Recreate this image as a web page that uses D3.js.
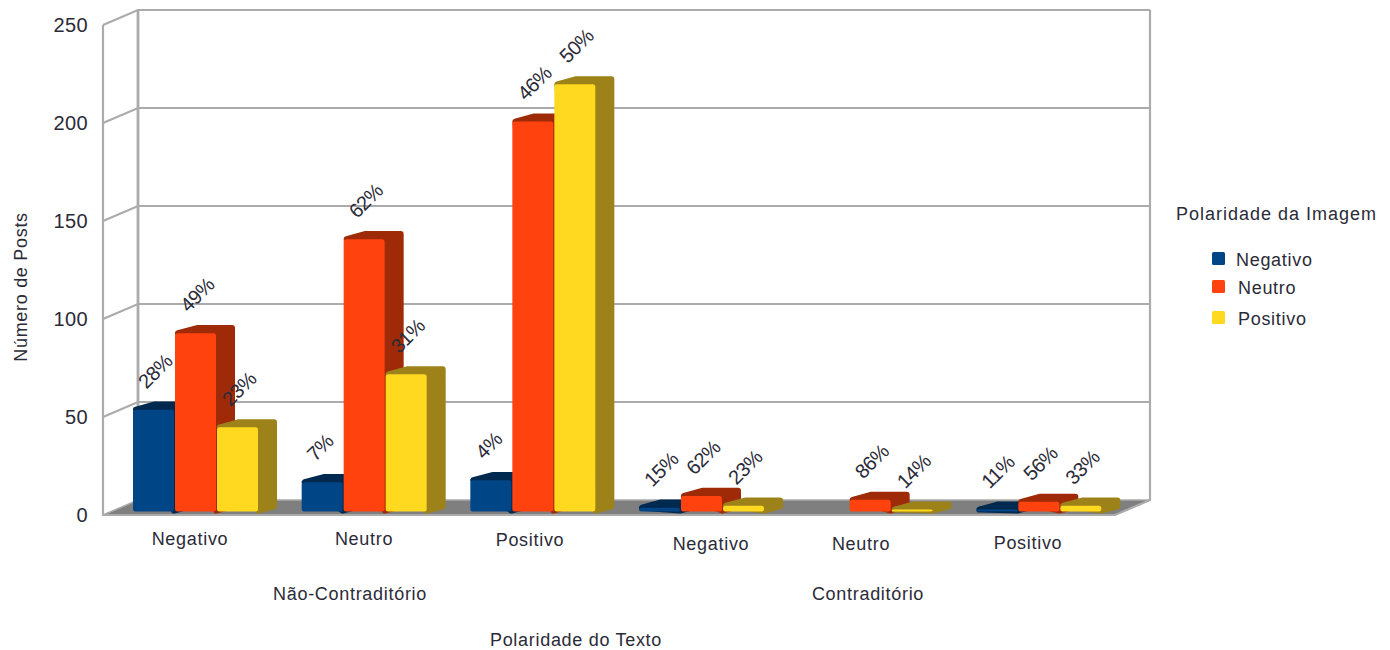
<!DOCTYPE html>
<html lang="pt">
<head>
<meta charset="utf-8">
<script src="https://cdn.jsdelivr.net/npm/d3@7/dist/d3.min.js"></script>
<style>
  html, body { margin: 0; background: #fff; }
  svg { display: block; }
  text { font-family: "Liberation Sans", Arial, sans-serif; fill: #2b2b38; }
</style>
</head>
<body>
<svg id="chart" width="1390" height="650"></svg>
<script>
// Posts counted by text polarity (two levels) and image polarity (series)
const textPolarity = ["Negativo", "Neutro", "Positivo", "Negativo", "Neutro", "Positivo"];
const contradiction = ["Não-Contraditório", "Contraditório"];
const imagePolarity = ["Negativo", "Neutro", "Positivo"];
const negativeSeries = [52, 15, 16, 2, 0, 1];
const neutralSeries = [91, 139, 199, 8, 6, 5];
const positiveSeries = [43, 70, 218, 3, 1, 3];
const yTicks = [0, 50, 100, 150, 200, 250];

const series = [negativeSeries, neutralSeries, positiveSeries];
const frontColors = ["#004586", "#ff420e", "#ffd820"];
const sideColors = ["#00294f", "#9f2a08", "#9c8218"];

// Oblique projection of the chart box
const plot = { left: 103, right: 1115, base: 515, top: 25, depthX: 35, depthY: -15 };
const gridColor = "#ababab";

const svg = d3.select("#chart");
const y = d3.scaleLinear().domain([0, 250]).range([plot.base, plot.top]);
const xGroup = d3.scaleBand().domain(d3.range(textPolarity.length)).range([plot.left, plot.right]);
const xSeries = d3.scaleBand().domain(d3.range(series.length)).range([22, 22 + 42 * 3]);
const line = d3.line();

// Depth fractions for points on the box (0 = front, 1 = back)
const dx = f => plot.depthX * f;
const dy = f => plot.depthY * f;

// Back wall, left wall and floor
const frame = svg.append("g");
frame.append("path")
  .attr("d", line([
    [plot.left, plot.base],
    [plot.right, plot.base],
    [plot.right + dx(1), plot.base + dy(1)],
    [plot.left + dx(1), plot.base + dy(1)]
  ]) + "Z")
  .attr("fill", "#7f7f7f");

frame.selectAll(".grid").data(yTicks).join("path")
  .attr("class", "grid")
  .attr("fill", "none")
  .attr("stroke", gridColor)
  .attr("stroke-width", (d, i) => (i === 0 ? 1.5 : 2.2))
  .attr("d", d => line([
    [plot.left, y(d)],
    [plot.left + dx(1), y(d) + dy(1)],
    [plot.right + dx(1), y(d) + dy(1)]
  ]));

frame.append("path")
  .attr("fill", "none").attr("stroke", gridColor).attr("stroke-width", 2.2)
  .attr("d", line([[plot.left, plot.top], [plot.left, plot.base], [plot.right, plot.base], [plot.right + dx(1), plot.base + dy(1)], [plot.right + dx(1), plot.top + dy(1)]]));
frame.append("path")
  .attr("fill", "none").attr("stroke", gridColor).attr("stroke-width", 2.8)
  .attr("d", line([[plot.left + dx(1), plot.top + dy(1)], [plot.left + dx(1), plot.base + dy(1)]]));

// Bars, drawn left to right so each one covers the side of its neighbour
const barNear = 8 / 35, barFar = 27 / 35, barWidth = 41;
const bevel = 3;
const bars = svg.append("g");
textPolarity.forEach((_, g) => {
  series.forEach((values, s) => {
    const v = values[g];
    if (v === 0) return;
    const x0 = xGroup(g) + xSeries(s) + dx(barNear);
    const x1 = x0 + barWidth;
    const yBase = y(0) + dy(barNear);
    const yTop = yBase - (y(0) - y(v));
    const ox = dx(barFar - barNear), oy = dy(barFar - barNear);
    // Top and side share one dark outline with rounded outer corners
    bars.append("path")
      .attr("d", line([
        [x0 + bevel, yTop],
        [x0 + ox + bevel, yTop + oy + bevel],
        [x1 + ox - bevel, yTop + oy + bevel],
        [x1 + ox - bevel, yBase + oy + bevel],
        [x1, yBase - 1]
      ]) + "Z")
      .attr("fill", sideColors[s])
      .attr("stroke", sideColors[s])
      .attr("stroke-width", bevel * 2)
      .attr("stroke-linejoin", "round");
    bars.append("rect")
      .attr("x", x0).attr("y", yTop).attr("width", barWidth).attr("height", yBase - yTop)
      .attr("rx", 2.5).attr("fill", frontColors[s]);
  });
});

// Percentage of each bar within its group, rotated above the bar
const labels = svg.append("g");
textPolarity.forEach((_, g) => {
  const total = d3.sum(series, values => values[g]);
  series.forEach((values, s) => {
    const v = values[g];
    if (v === 0) return;
    const cx = xGroup(g) + xSeries(s) + dx(barNear) + barWidth / 2;
    const yTop = y(0) + dy(barNear) - (y(0) - y(v));
    labels.append("text")
      .attr("transform", `translate(${cx - 7},${yTop - 20}) rotate(-45)`)
      .attr("font-size", 20)
      .attr("letter-spacing", -0.6)
      .text(`${Math.round(v / total * 100)}%`);
  });
});

// Value axis
svg.append("g").selectAll("text").data(yTicks).join("text")
  .attr("x", 88).attr("y", d => y(d) + 7)
  .attr("text-anchor", "end").attr("font-size", 20).attr("letter-spacing", 0.4)
  .text(d => d);

// Category axis, first and second level
const axisLabelSize = 18, axisLabelSpacing = 0.7;
const categoryX = [190, 364, 530, 711, 861, 1028];
const categoryY = [545, 545, 546, 550, 550, 549];
svg.append("g").selectAll("text").data(textPolarity).join("text")
  .attr("x", (d, i) => categoryX[i]).attr("y", (d, i) => categoryY[i])
  .attr("text-anchor", "middle").attr("font-size", axisLabelSize).attr("letter-spacing", axisLabelSpacing)
  .text(d => d);

const parentX = [350, 868];
svg.append("g").selectAll("text").data(contradiction).join("text")
  .attr("x", (d, i) => parentX[i]).attr("y", 600)
  .attr("text-anchor", "middle").attr("font-size", axisLabelSize).attr("letter-spacing", axisLabelSpacing)
  .text(d => d);

// Axis titles
svg.append("text")
  .attr("x", 576).attr("y", 646)
  .attr("text-anchor", "middle").attr("font-size", axisLabelSize).attr("letter-spacing", axisLabelSpacing)
  .text("Polaridade do Texto");
svg.append("text")
  .attr("transform", "translate(27,287) rotate(-90)")
  .attr("text-anchor", "middle").attr("font-size", axisLabelSize).attr("letter-spacing", axisLabelSpacing)
  .text("Número de Posts");

// Legend
const legend = svg.append("g");
legend.append("text")
  .attr("x", 1176).attr("y", 220).attr("font-size", axisLabelSize).attr("letter-spacing", 1)
  .text("Polaridade da Imagem");
const legendY = [259, 287, 318];
const legendTextX = [1236, 1238, 1238];
imagePolarity.forEach((name, i) => {
  legend.append("rect")
    .attr("x", 1212).attr("y", legendY[i] - 7).attr("width", 13).attr("height", 13)
    .attr("rx", 1.5).attr("fill", frontColors[i]);
  legend.append("text")
    .attr("x", legendTextX[i]).attr("y", legendY[i] + 6.5)
    .attr("font-size", axisLabelSize).attr("letter-spacing", axisLabelSpacing)
    .text(name);
});
</script>
</body>
</html>
